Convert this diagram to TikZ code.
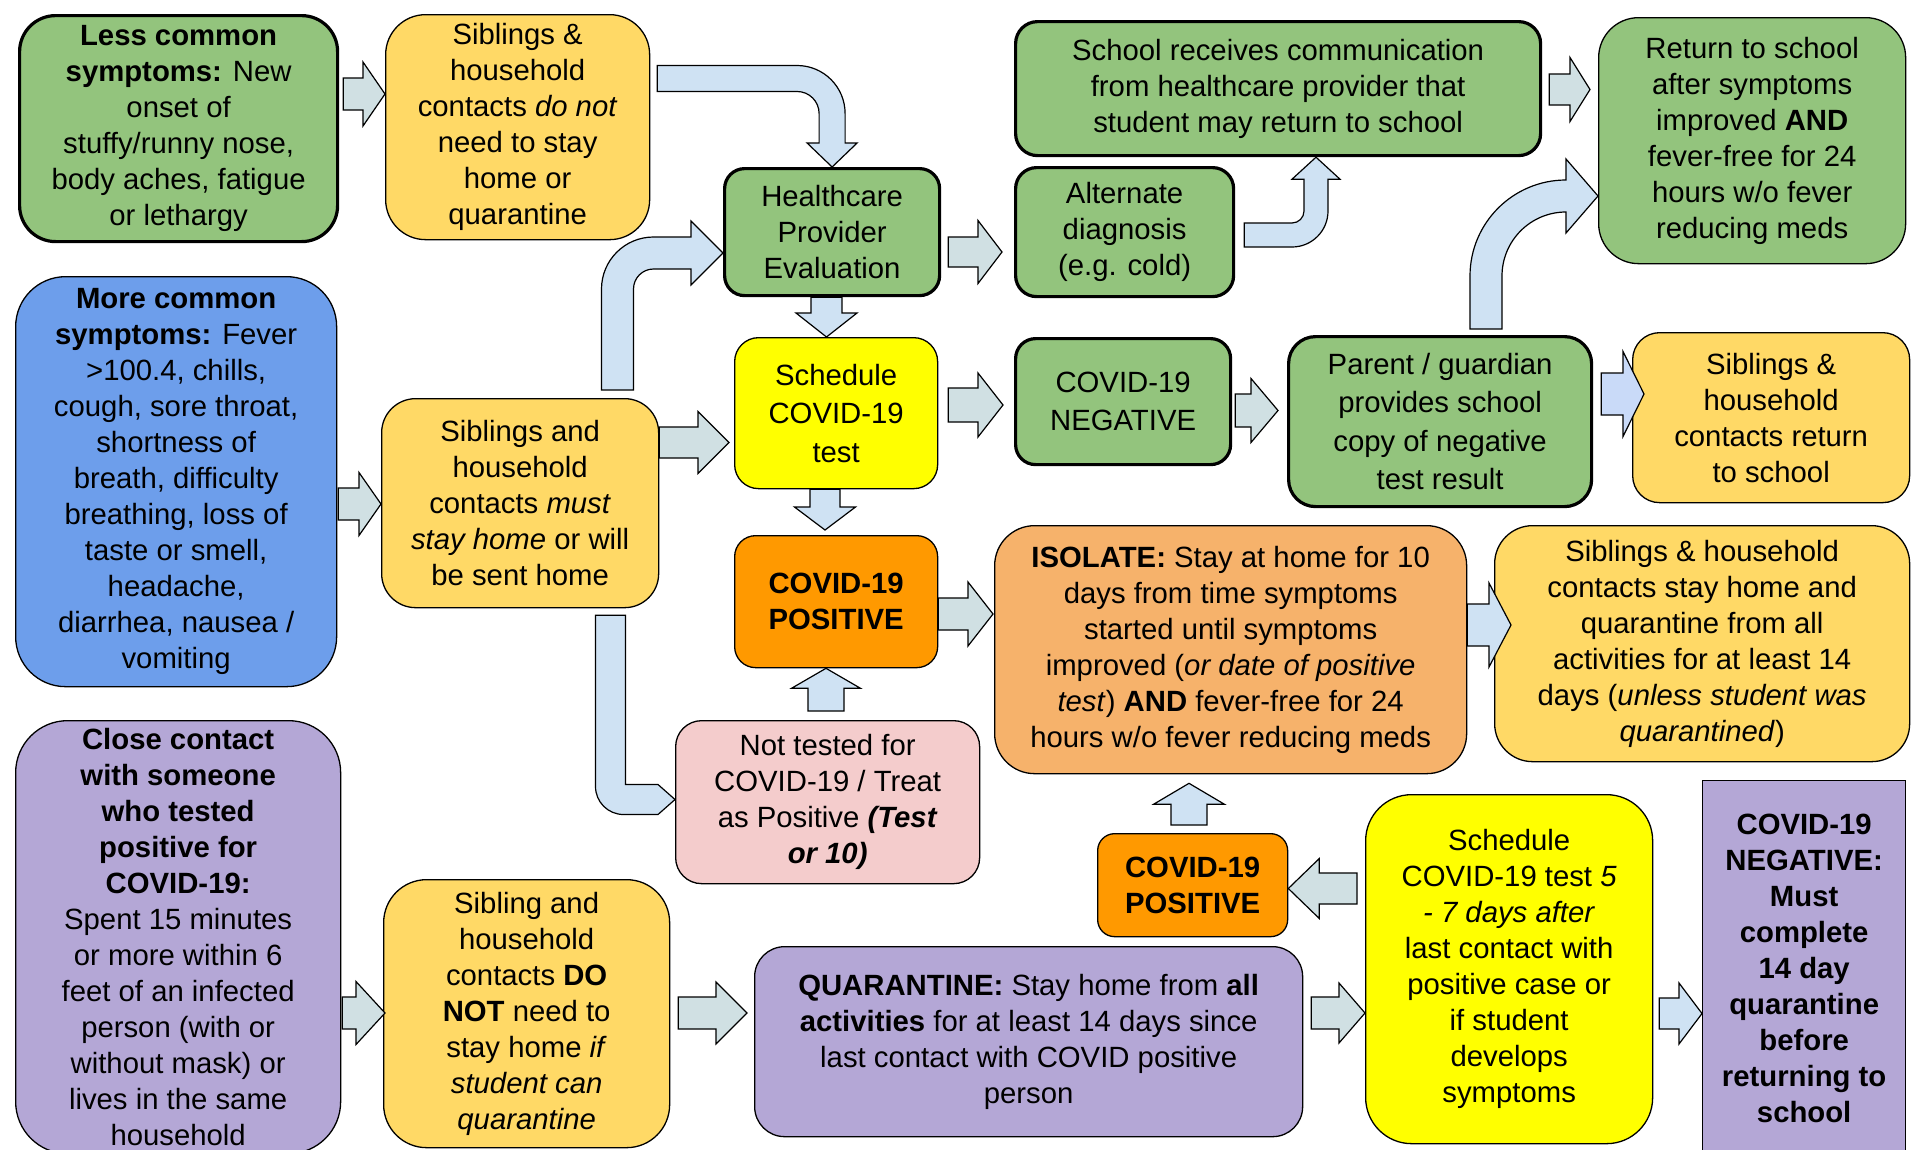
\documentclass[tikz,border=0pt]{standalone}
\usepackage{fontspec}
\setmainfont{Liberation Sans}
\usetikzlibrary{calc}

\definecolor{cgreen}{RGB}{147,196,125}
\definecolor{cyellow}{RGB}{255,217,102}
\definecolor{cblue}{RGB}{109,158,235}
\definecolor{cpurple}{RGB}{180,167,214}
\definecolor{clemon}{RGB}{255,255,0}
\definecolor{corange}{RGB}{255,153,0}
\definecolor{cpeach}{RGB}{246,178,107}
\definecolor{cpink}{RGB}{244,204,204}
\definecolor{agray}{RGB}{208,224,227}
\definecolor{ablue}{RGB}{207,226,243}
\definecolor{acorn}{RGB}{201,218,248}

\tikzset{
  box/.style={draw=black, line width=1.3pt, align=center, inner sep=0pt, anchor=north west},
  thickbox/.style={box, line width=3.2pt},
  loose/.style={font=\fontsize{29.3}{38.5}\selectfont},
  garr/.style={draw=black, line width=1.2pt, fill=agray, line join=miter},
  barr/.style={garr, fill=ablue},
  carr/.style={garr, fill=acorn},
}

% block arrows: #1 style, #2 start (shaft end), #3 tip, #4 shaft half, #5 head half, #6 head length
\newcommand\blkR[6]{\draw[#1] let \p1=#2, \p2=#3 in
  (\x1,\y1+#4pt) -- (\x2-#6pt,\y1+#4pt) -- (\x2-#6pt,\y1+#5pt) -- (\x2,\y1)
  -- (\x2-#6pt,\y1-#5pt) -- (\x2-#6pt,\y1-#4pt) -- (\x1,\y1-#4pt) -- cycle;}
\newcommand\blkL[6]{\draw[#1] let \p1=#2, \p2=#3 in
  (\x1,\y1+#4pt) -- (\x2+#6pt,\y1+#4pt) -- (\x2+#6pt,\y1+#5pt) -- (\x2,\y1)
  -- (\x2+#6pt,\y1-#5pt) -- (\x2+#6pt,\y1-#4pt) -- (\x1,\y1-#4pt) -- cycle;}
\newcommand\blkD[6]{\draw[#1] let \p1=#2, \p2=#3 in
  (\x1-#4pt,\y1) -- (\x1-#4pt,\y2+#6pt) -- (\x1-#5pt,\y2+#6pt) -- (\x1,\y2)
  -- (\x1+#5pt,\y2+#6pt) -- (\x1+#4pt,\y2+#6pt) -- (\x1+#4pt,\y1) -- cycle;}
\newcommand\blkU[6]{\draw[#1] let \p1=#2, \p2=#3 in
  (\x1-#4pt,\y1) -- (\x1-#4pt,\y2-#6pt) -- (\x1-#5pt,\y2-#6pt) -- (\x1,\y2)
  -- (\x1+#5pt,\y2-#6pt) -- (\x1+#4pt,\y2-#6pt) -- (\x1+#4pt,\y1) -- cycle;}

\begin{document}
\begin{tikzpicture}[x=1pt,y=-1pt,font=\fontsize{29.3}{36}\selectfont]
\useasboundingbox (0,0) rectangle (1911,1149);
\clip (0,0) rectangle (1911,1149);

%Rounded Rect
\node[thickbox, fill=cgreen, rounded corners=36pt, minimum width=318pt, minimum height=226pt] (less) at (18,14) {\textbf{Less common}\\\textbf{symptoms:} New\\onset of\\stuffy/runny nose,\\body aches, fatigue\\or lethargy};
%Rounded Rect
\node[box, fill=cyellow, rounded corners=40pt, minimum width=264pt, minimum height=225pt] (sibnot) at (385,14) {Siblings \&\\household\\contacts \textit{do not}\\need to stay\\home or\\quarantine};
%Rounded Rect
\node[thickbox, fill=cgreen, rounded corners=20pt, minimum width=215pt, minimum height=127pt] (hpe) at (723,167) {Healthcare\\Provider\\Evaluation};
%Rounded Rect
\node[thickbox, fill=cgreen, rounded corners=22pt, minimum width=525pt, minimum height=134pt] (school) at (1014,20) {School receives communication\\from healthcare provider that\\student may return to school};
%Rounded Rect
\node[thickbox, fill=cgreen, rounded corners=21pt, minimum width=218pt, minimum height=129pt] (alt) at (1014,166) {Alternate\\diagnosis\\(e.g. cold)};
%Rounded Rect
\node[box, fill=cgreen, rounded corners=40pt, minimum width=307pt, minimum height=246pt] (ret) at (1598,17) {Return to school\\after symptoms\\improved \textbf{AND}\\fever-free for 24\\hours w/o fever\\reducing meds};
%Rounded Rect
\node[box, fill=cblue, rounded corners=50pt, minimum width=321pt, minimum height=410pt] (more) at (15,276) {\textbf{More common}\\\textbf{symptoms:} Fever\\>100.4, chills,\\cough, sore throat,\\shortness of\\breath, difficulty\\breathing, loss of\\taste or smell,\\headache,\\diarrhea, nausea /\\vomiting};
%Rounded Rect
\node[box, fill=cyellow, rounded corners=34pt, minimum width=277pt, minimum height=209pt] (sibmust) at (381,398) {Siblings and\\household\\contacts \textit{must}\\\textit{stay home} or will\\be sent home};
%Rounded Rect
\node[box, loose, fill=clemon, rounded corners=24pt, minimum width=203pt, minimum height=151pt] (sched) at (734,337) {Schedule\\COVID-19\\test};
%Rounded Rect
\node[box, fill=corange, rounded corners=21pt, minimum width=203pt, minimum height=132pt] (pos) at (734,535) {\textbf{COVID-19}\\\textbf{POSITIVE}};
%Rounded Rect
\node[thickbox, loose, fill=cgreen, rounded corners=20pt, minimum width=215pt, minimum height=126pt] (neg) at (1014,337) {COVID-19\\NEGATIVE};
%Rounded Rect
\node[thickbox, loose, fill=cgreen, rounded corners=27pt, minimum width=303pt, minimum height=170pt] (parent) at (1287,335) {Parent / guardian\\provides school\\copy of negative\\test result};
%Rounded Rect
\node[box, fill=cyellow, rounded corners=27pt, minimum width=277pt, minimum height=170pt] (sibret) at (1632,332) {Siblings \&\\household\\contacts return\\to school};
%Rounded Rect
\node[box, fill=cpink, rounded corners=26pt, minimum width=304pt, minimum height=163pt] (nottest) at (675,720) {Not tested for\\COVID-19 / Treat\\as Positive \textbf{\textit{(Test}}\\\textbf{\textit{or 10)}}};
%Rounded Rect
\node[box, fill=cpeach, rounded corners=40pt, minimum width=472pt, minimum height=248pt] (iso) at (994,525) {\textbf{ISOLATE:} Stay at home for 10\\days from time symptoms\\started until symptoms\\improved (\textit{or date of positive}\\\textit{test}) \textbf{AND} fever-free for 24\\hours w/o fever reducing meds};
%Rounded Rect
\node[box, fill=cyellow, rounded corners=38pt, minimum width=415pt, minimum height=236pt] (sibstay) at (1494,525) {Siblings \& household\\contacts stay home and\\quarantine from all\\activities for at least 14\\days (\textit{unless student was}\\\textit{quarantined})};
%Rounded Rect
\node[box, fill=cpurple, rounded corners=52pt, minimum width=325pt, minimum height=433pt] (close) at (15,720) {\textbf{Close contact}\\\textbf{with someone}\\\textbf{who tested}\\\textbf{positive for}\\\textbf{COVID-19:}\\Spent 15 minutes\\or more within 6\\feet of an infected\\person (with or\\without mask) or\\lives in the same\\household};
%Rounded Rect
\node[box, fill=cyellow, rounded corners=43pt, minimum width=286pt, minimum height=268pt] (sibdo) at (383,879) {Sibling and\\household\\contacts \textbf{DO}\\\textbf{NOT} need to\\stay home \textit{if}\\\textit{student can}\\\textit{quarantine}};
%Rounded Rect
\node[box, fill=cpurple, rounded corners=30pt, minimum width=548pt, minimum height=190pt] (quar) at (754,946) {\textbf{QUARANTINE:} Stay home from \textbf{all}\\\textbf{activities} for at least 14 days since\\last contact with COVID positive\\person};
%Rounded Rect
\node[box, fill=corange, rounded corners=17pt, minimum width=190pt, minimum height=103pt] (pos2) at (1097,833) {\textbf{COVID-19}\\\textbf{POSITIVE}};
%Rounded Rect
\node[box, fill=clemon, rounded corners=46pt, minimum width=287pt, minimum height=349pt] (sched2) at (1365,794) {Schedule\\COVID-19 test \textit{5}\\\textit{- 7 days after}\\last contact with\\positive case or\\if student\\develops\\symptoms};
%Rect
\node[box, fill=cpurple, minimum width=203pt, minimum height=375pt] (neg2) at (1702,780) {\textbf{COVID-19}\\\textbf{NEGATIVE:}\\\textbf{Must}\\\textbf{complete}\\\textbf{14 day}\\\textbf{quarantine}\\\textbf{before}\\\textbf{returning to}\\\textbf{school}};

%Right Arrows
\blkR{garr}{($(less.east |- 0,94)+(4,0)$)}{(sibnot.west)}{16}{32}{22}
\blkR{garr}{($(hpe.east |- 0,252)+(7,0)$)}{($(alt.west)+(-12,0)$)}{15}{31.5}{24}
\blkR{garr}{($(school.east |- 0,89.5)+(7,0)$)}{($(ret.west)+(-8,0)$)}{15.5}{32}{20}
\blkR{garr}{($(more.east |- 0,504)+(1,0)$)}{(sibmust.west)}{16}{31.5}{22}
\blkR{garr}{(sibmust.east |- 0,442.5)}{($(sched.west)+(-5,0)$)}{15.5}{31}{31}
\blkR{garr}{($(sched.east |- 0,405)+(10,0)$)}{($(neg.west)+(-11,0)$)}{17}{32}{25}
\blkR{garr}{($(neg.east |- 0,410.5)+(3,0)$)}{($(parent.west)+(-9,0)$)}{16.5}{32}{27}
\blkR{carr}{($(parent.east |- 0,394)+(8,0)$)}{($(sibret.west)+(12,0)$)}{21}{42.5}{21}
\blkR{garr}{(pos.east |- 0,614)}{($(iso.west)+(-1,0)$)}{16}{32}{25}
\blkR{barr}{(iso.east |- 0,625)}{($(sibstay.west)+(17,0)$)}{21}{42}{22}
\blkR{garr}{($(close.east |- 0,1013)+(1,0)$)}{($(sibdo.west)+(2,0)$)}{16}{31.5}{29}
\blkR{garr}{($(sibdo.east |- 0,1013)+(8,0)$)}{($(quar.west)+(-7,0)$)}{16}{31}{31}
\blkR{garr}{($(quar.east |- 0,1013)+(8,0)$)}{(sched2.west)}{16}{30}{26}
\blkR{barr}{($(sched2.east |- 0,1013.5)+(6,0)$)}{(neg2.west)}{15.5}{30.5}{23}
%Left Arrow
\blkL{garr}{($(sched2.west |- 0,888.5)+(-8,0)$)}{(pos2.east)}{15.5}{30}{31}
%Down Arrows
\blkD{barr}{(hpe.south -| 826.5,0)}{(sched.north)}{15.5}{30.5}{24}
\blkD{barr}{(sched.south -| 825,0)}{($(pos.north)+(0,-5)$)}{15}{30.5}{23}
%Up Arrows
\blkU{barr}{($(nottest.north -| 826,0)+(0,-9)$)}{(pos.south)}{18}{34.5}{20}
\blkU{barr}{($(pos2.north -| 1189,0)+(0,-8)$)}{($(iso.south)+(0,9)$)}{18}{35.5}{21}

%Bent Arrows
\draw[barr] let \p1=($(sibnot.east |- 0,78.5)+(7,0)$), \p2=(hpe.north) in
  (\x1,\y1+13pt) -- (\x2-35pt,\y1+13pt) arc[start angle=90,end angle=0,radius=48pt]
  -- (\x2+13pt,\y2+24pt) -- (\x2+25pt,\y2+24pt) -- (\x2,\y2) -- (\x2-25pt,\y2+24pt)
  -- (\x2-13pt,\y2+24pt) -- (\x2-13pt,\y1-35pt) arc[start angle=0,end angle=90,radius=22pt]
  -- (\x1,\y1-13pt) -- cycle;
\draw[barr] let \p1=($(alt.east |- 0,235)+(9,0)$), \p2=(school.south -| 1316,0) in
  (\x1,\y1+12pt) -- (\x2-24pt,\y1+12pt) arc[start angle=-90,end angle=0,radius=12pt]
  -- (\x2-12pt,\y2-22pt) -- (\x2-24pt,\y2-22pt) -- (\x2,\y2) -- (\x2+24pt,\y2-22pt)
  -- (\x2+12pt,\y2-22pt) -- (\x2+12pt,\y1+24pt) arc[start angle=0,end angle=-90,radius=36pt]
  -- (\x1,\y1-12pt) -- cycle;
\draw[barr] let \p1=($(sibmust.north -| 617.5,0)+(0,-8)$), \p2=(hpe.west |- 0,253) in
  (\x1-16pt,\y1) -- (\x1-16pt,\y2-36pt) arc[start angle=180,end angle=90,radius=52pt]
  -- (\x2-32pt,\y2+16pt) -- (\x2-32pt,\y2+32pt) -- (\x2,\y2) -- (\x2-32pt,\y2-32pt)
  -- (\x2-32pt,\y2-16pt) -- (\x1+36pt,\y2-16pt) arc[start angle=90,end angle=180,radius=20pt]
  -- (\x1+16pt,\y1) -- cycle;
\draw[barr] let \p1=($(parent.north -| 1486,0)+(0,-6)$), \p2=(ret.west |- 0,196) in
  (\x1-16pt,\y1) -- (\x1-16pt,\y2-80pt) arc[start angle=180,end angle=90,radius=96pt]
  -- (\x2-32pt,\y2+37pt) -- (\x2,\y2) -- (\x2-32pt,\y2-37pt) -- (\x2-32pt,\y2-16pt)
  arc[start angle=90,end angle=180,radius=64pt] -- (\x1+16pt,\y1) -- cycle;
\draw[barr] let \p1=($(sibmust.south -| 610.5,0)+(0,7)$), \p2=(nottest.west |- 0,799.5) in
  (\x1-15pt,\y1) -- (\x1-15pt,\y2+13pt) arc[start angle=180,end angle=270,radius=28pt]
  -- (\x2-17pt,\y2-15pt) -- (\x2,\y2) -- (\x2-17pt,\y2+15pt) -- (\x1+15pt,\y2+15pt)
  -- (\x1+15pt,\y1) -- cycle;
\end{tikzpicture}
\end{document}
